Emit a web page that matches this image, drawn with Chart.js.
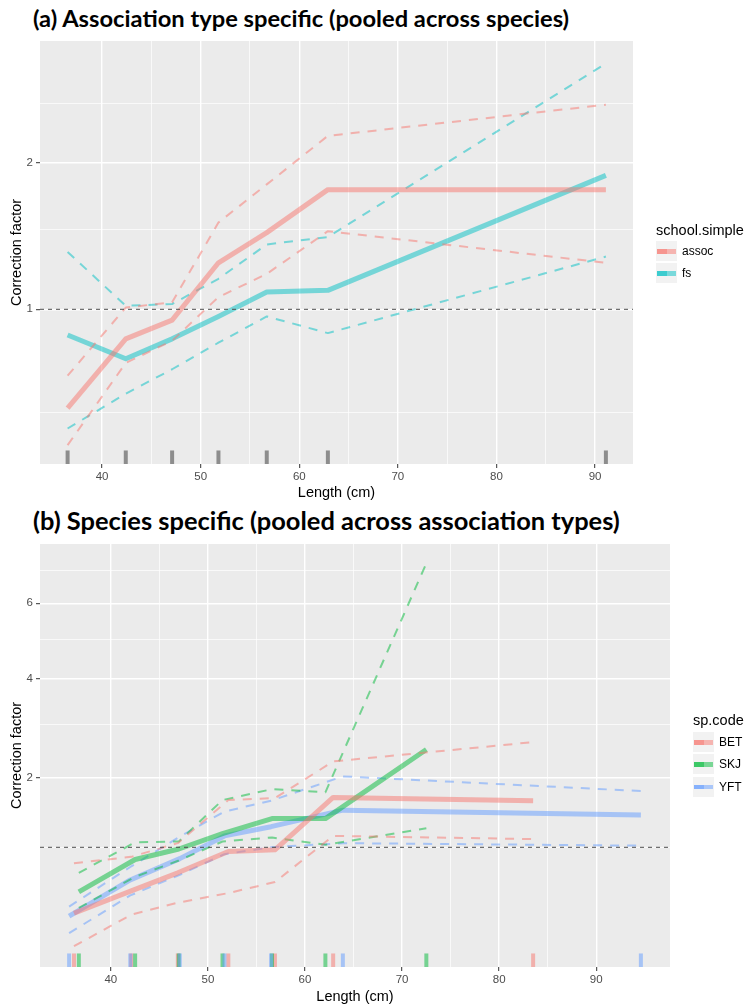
<!DOCTYPE html>
<html><head><meta charset="utf-8">
<script src="https://cdn.jsdelivr.net/npm/chart.js@4.4.1/dist/chart.umd.min.js"></script>
<style>
html,body{margin:0;padding:0;background:#fff;}
body{width:746px;height:1006px;position:relative;overflow:hidden;font-family:"Liberation Sans",Arial,sans-serif;}
.title{position:absolute;left:33px;font-family:Lato,"Open Sans",sans-serif;font-weight:700;white-space:nowrap;color:#000;line-height:1;}
canvas{position:absolute;left:0;}
.lt{position:absolute;font-size:14.5px;color:#000;white-space:nowrap;line-height:1;}
.key{position:absolute;width:21px;height:20px;background:#F2F2F2;}
.key .ln{position:absolute;left:1px;right:1px;top:8px;height:4.5px;}
.key .dk{position:absolute;left:1px;width:10px;top:8px;height:4.5px;}
.ll{position:absolute;font-size:12px;color:#000;white-space:nowrap;line-height:1;}
</style></head>
<body>
<div id="tA" class="title">(a) Association type specific (pooled across species)</div>
<div id="tB" class="title">(b) Species specific (pooled across association types)</div>
<canvas id="cA" width="746" height="475" style="top:30px;width:746px;height:475px"></canvas>
<canvas id="cB" width="746" height="476" style="top:530px;width:746px;height:476px"></canvas>
<div id="legs"></div>
<script>
// ---------- Panel (a) data ----------
const LEN_A = [36.5, 42.4, 47.1, 51.8, 56.7, 62.9, 91.1];
const ASSOC_FIT   = [0.52, 0.84, 0.94, 1.28, 1.48, 1.79, 1.79];
const ASSOC_UPPER = [0.66, 1.01, 1.04, 1.55, 1.83, 2.22, 2.49];
const ASSOC_LOWER = [0.38, 0.72, 0.83, 1.07, 1.21, 1.49, 1.28];
const FS_FIT   = [0.86, 0.74, 0.84, 0.96, 1.10, 1.11, 1.90];
const FS_UPPER = [1.35, 1.02, 1.03, 1.18, 1.40, 1.45, 2.87];
const FS_LOWER = [0.44, 0.58, 0.69, 0.82, 0.96, 0.87, 1.32];
const GROUPS_A = ['assoc', 'fs'];

// ---------- Panel (b) data ----------
const LEN_BET = [36.2, 42.1, 46.9, 52.1, 56.9, 62.9, 83.5];
const LEN_SKJ = [36.7, 42.5, 47.0, 51.5, 56.6, 62.1, 72.5];
const LEN_YFT = [35.7, 42.0, 47.1, 51.7, 56.5, 63.9, 94.6];
const BET_FIT   = [0.37, 0.55, 0.72, 0.95, 0.97, 1.68, 1.63];
const BET_UPPER = [0.82, 0.89, 1.05, 1.64, 1.67, 2.28, 2.64];
const BET_LOWER = [0.17, 0.36, 0.45, 0.53, 0.63, 1.14, 1.10];
const SKJ_FIT   = [0.54, 0.86, 0.98, 1.17, 1.37, 1.37, 2.50];
const SKJ_UPPER = [0.72, 1.06, 1.07, 1.64, 1.81, 1.76, 7.22];
const SKJ_LOWER = [0.41, 0.68, 0.85, 1.07, 1.12, 1.03, 1.24];
const YFT_FIT   = [0.35, 0.65, 0.87, 1.14, 1.26, 1.49, 1.42];
const YFT_UPPER = [0.42, 0.78, 1.13, 1.47, 1.63, 2.02, 1.78];
const YFT_LOWER = [0.24, 0.51, 0.70, 0.92, 1.00, 1.05, 1.02];
const GROUPS_B = ['BET', 'SKJ', 'YFT'];

// ---------- axes ----------
const X_MAJOR = [40, 50, 60, 70, 80, 90];
const X_MINOR = [45, 55, 65, 75, 85];
const X_LIM_A = [33.7, 93.85];
const Y_LIM_A = [0.317, 3.09];
const Y_MAJOR_A = [1, 2];
const Y_MINOR_A = [0.5, 1.5, 2.5];
const X_LIM_B = [32.7, 97.6];
const Y_LIM_B = [0.0835, 7.85];
const Y_MAJOR_B = [2, 4, 6];
const Y_MINOR_B = [1, 3, 5, 7];
const REF_LINE = 1;

const COL = {assoc:'rgba(248,118,109,0.5)', fs:'rgba(0,191,196,0.5)',
             BET:'rgba(248,118,109,0.5)', SKJ:'rgba(0,186,56,0.5)', YFT:'rgba(97,156,255,0.5)'};

Chart.defaults.font.family = '"Liberation Sans", Arial, sans-serif';
Chart.defaults.animation = false;

function series(xs, ys, color, dashed) {
  return {
    data: xs.map((x, i) => ({x: x, y: Math.sqrt(ys[i])})),
    borderColor: color, borderWidth: dashed ? 2 : 5,
    borderDash: dashed ? [9, 8] : [],
    pointRadius: 0, fill: false, tension: 0,
    borderCapStyle: 'butt', borderJoinStyle: 'round'
  };
}
function tickList(major, minor, tf) {
  const t = major.map(v => ({value: tf(v), lbl: String(v)}))
    .concat(minor.map(v => ({value: tf(v), lbl: ''})));
  t.sort((a, b) => a.value - b.value);
  return t;
}
const bgPlugin = {id: 'bg', beforeDraw(chart) {
  const {ctx, chartArea: a} = chart;
  ctx.save(); ctx.fillStyle = '#EBEBEB'; ctx.fillRect(a.left, a.top, a.width, a.height); ctx.restore();
}};
function rugPlugin(sets) {
  return {id: 'rug', afterDatasetsDraw(chart) {
    const {ctx, chartArea: a, scales} = chart;
    ctx.save();
    ctx.beginPath(); ctx.rect(a.left, a.top, a.width, a.height); ctx.clip();
    const len = a.height * 0.032;
    sets.forEach(s => {
      ctx.strokeStyle = s.color; ctx.lineWidth = 4; ctx.lineCap = 'butt';
      s.values.forEach(v => {
        const px = scales.x.getPixelForValue(v);
        ctx.beginPath(); ctx.moveTo(px, a.bottom); ctx.lineTo(px, a.bottom - len); ctx.stroke();
      });
    });
    ctx.restore();
  }};
}
function makeChart(id, datasets, xlim, ylim, ymaj, ymin, rightPad, topPad, xH, rugs, titleBottom) {
  const refLine = {data: [{x: xlim[0], y: Math.sqrt(REF_LINE)}, {x: xlim[1], y: Math.sqrt(REF_LINE)}],
    borderColor: '#4D4D4D', borderWidth: 1, borderDash: [4, 4], pointRadius: 0, fill: false};
  const gridCommon = {
    color: '#FFFFFF',
    lineWidth: c => (c.tick && c.tick.lbl) ? 1.4 : 0.7,
    tickColor: c => (c.tick && c.tick.lbl) ? '#333333' : 'rgba(0,0,0,0)',
    tickWidth: 1, tickLength: 4, drawTicks: true
  };
  return new Chart(document.getElementById(id), {
    type: 'line',
    data: {datasets: [refLine].concat(datasets)},
    options: {
      responsive: false, maintainAspectRatio: false, animation: false,
      layout: {padding: {left: 0, right: rightPad, top: topPad, bottom: 0}},
      plugins: {legend: {display: false}, tooltip: {enabled: false}, title: {display: false}},
      scales: {
        x: {type: 'linear', min: xlim[0], max: xlim[1],
          afterBuildTicks: s => { s.ticks = tickList(X_MAJOR, X_MINOR, v => v); },
          afterFit: s => { s.height = xH; },
          ticks: {autoSkip: false, maxRotation: 0, padding: 2, color: '#4D4D4D', font: {size: 11.5},
            callback: (v, i, t) => t[i].lbl},
          grid: gridCommon, border: {display: false},
          title: {display: true, text: 'Length (cm)', color: '#000', font: {size: 14.5}, padding: {top: 0, bottom: titleBottom}}
        },
        y: {type: 'linear', min: Math.sqrt(ylim[0]), max: Math.sqrt(ylim[1]),
          afterBuildTicks: s => { s.ticks = tickList(ymaj, ymin, Math.sqrt); },
          afterFit: s => { s.width = 40; },
          ticks: {autoSkip: false, padding: 3, color: '#4D4D4D', font: {size: 11.5},
            callback: (v, i, t) => t[i].lbl},
          grid: gridCommon, border: {display: false},
          title: {display: true, text: 'Correction factor', color: '#000', font: {size: 14.5}, padding: {top: 8, bottom: 0}}
        }
      }
    },
    plugins: [bgPlugin, rugPlugin(rugs)]
  });
}

// Panel (a)
makeChart('cA', [
  series(LEN_A, ASSOC_FIT, COL.assoc, false),
  series(LEN_A, ASSOC_UPPER, COL.assoc, true),
  series(LEN_A, ASSOC_LOWER, COL.assoc, true),
  series(LEN_A, FS_FIT, COL.fs, false),
  series(LEN_A, FS_UPPER, COL.fs, true),
  series(LEN_A, FS_LOWER, COL.fs, true)
], X_LIM_A, Y_LIM_A, Y_MAJOR_A, Y_MINOR_A, 113, 11, 41,
  [{values: LEN_A, color: 'rgba(0,0,0,0.4)'}], 3);

// Panel (b)
makeChart('cB', [
  series(LEN_BET, BET_FIT, COL.BET, false),
  series(LEN_BET, BET_UPPER, COL.BET, true),
  series(LEN_BET, BET_LOWER, COL.BET, true),
  series(LEN_SKJ, SKJ_FIT, COL.SKJ, false),
  series(LEN_SKJ, SKJ_UPPER, COL.SKJ, true),
  series(LEN_SKJ, SKJ_LOWER, COL.SKJ, true),
  series(LEN_YFT, YFT_FIT, COL.YFT, false),
  series(LEN_YFT, YFT_UPPER, COL.YFT, true),
  series(LEN_YFT, YFT_LOWER, COL.YFT, true)
], X_LIM_B, Y_LIM_B, Y_MAJOR_B, Y_MINOR_B, 76, 14, 39,
  [{values: LEN_BET, color: COL.BET}, {values: LEN_SKJ, color: COL.SKJ}, {values: LEN_YFT, color: COL.YFT}], 0);

// Titles
function fitTitle(id, target, cy) {
  const el = document.getElementById(id);
  const c = document.createElement('canvas').getContext('2d');
  c.font = '700 22px Lato';
  const w = c.measureText(el.textContent).width;
  const fs = 22 * target / w;
  el.style.fontSize = fs.toFixed(2) + 'px';
  el.style.top = (cy - fs * 0.55).toFixed(1) + 'px';
}
fitTitle('tA', 537, 20);
fitTitle('tB', 587, 522);

// Legends
function legend(title, groups, left, titleCy, keyTop) {
  const host = document.getElementById('legs');
  const t = document.createElement('div');
  t.className = 'lt'; t.textContent = title;
  t.style.left = left + 'px'; t.style.top = (titleCy - 7.5) + 'px';
  host.appendChild(t);
  groups.forEach((g, i) => {
    const top = keyTop + i * 22.3;
    const k = document.createElement('div');
    k.className = 'key'; k.style.left = left + 'px'; k.style.top = top + 'px';
    const ln = document.createElement('div'); ln.className = 'ln'; ln.style.background = COL[g];
    const dk = document.createElement('div'); dk.className = 'dk'; dk.style.background = COL[g];
    k.appendChild(ln); k.appendChild(dk); host.appendChild(k);
    const l = document.createElement('div');
    l.className = 'll'; l.textContent = g;
    l.style.left = (left + 26) + 'px'; l.style.top = (top + 4) + 'px';
    host.appendChild(l);
  });
}
legend('school.simple', GROUPS_A, 656, 230, 241);
legend('sp.code', GROUPS_B, 693, 720, 732);
</script>
</body></html>
